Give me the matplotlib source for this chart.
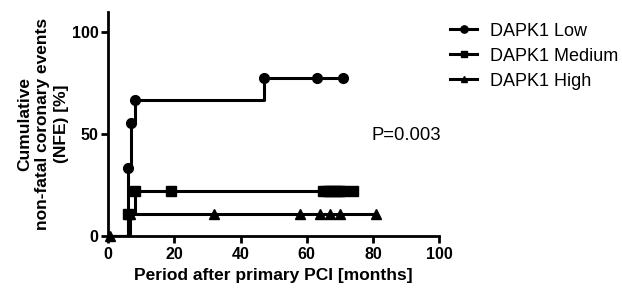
import matplotlib
matplotlib.use("Agg")
import matplotlib.pyplot as plt

plt.rcParams['font.family'] = ['Liberation Sans', 'DejaVu Sans']

# Kaplan-Meier style step data (time in months, cumulative %)
low_t = [0, 6, 7, 8, 47, 71]
low_y = [0, 33.3, 55.6, 66.7, 77.8, 77.8]
low_mark_t = [6, 7, 8, 47, 63, 71]
low_mark_y = [33.3, 55.6, 66.7, 77.8, 77.8, 77.8]

med_t = [0, 6, 8, 74]
med_y = [0, 11.1, 22.2, 22.2]
med_mark_t = [6, 8, 19, 65, 66, 67, 68, 69, 70, 71, 74]
med_mark_y = [11.1, 22.2, 22.2, 22.2, 22.2, 22.2, 22.2, 22.2, 22.2, 22.2, 22.2]

high_t = [0, 6.5, 81]
high_y = [0, 11.1, 11.1]
high_mark_t = [0.5, 6.5, 32, 58, 64, 67, 70, 81]
high_mark_y = [0, 11.1, 11.1, 11.1, 11.1, 11.1, 11.1, 11.1]

labels = ["DAPK1 Low", "DAPK1 Medium", "DAPK1 High"]
xticks = [0, 20, 40, 60, 80, 100]
yticks = [0, 50, 100]

fig = plt.figure(figsize=(6.22, 2.89), dpi=100)
ax = fig.add_axes([0.174, 0.183, 0.532, 0.775])

lw = 2.2
series = [
    (low_t, low_y, low_mark_t, low_mark_y, 'o', 7),
    (med_t, med_y, med_mark_t, med_mark_y, 's', 6.5),
    (high_t, high_y, high_mark_t, high_mark_y, '^', 6.5),
]
for (t, y, mt, my, m, ms), lab in zip(series, labels):
    ax.step(t, y, where='post', color='black', lw=lw, zorder=3)
    ax.plot(mt, my, linestyle='none', marker=m, ms=ms, color='black', zorder=4, clip_on=False)
    ax.plot([], [], color='black', lw=lw, marker=m, ms=ms * 0.75, label=lab)

ax.set_xlim(0, 100)
ax.set_ylim(0, 110)
ax.set_xticks(xticks)
ax.set_yticks(yticks)
for s in ['top', 'right']:
    ax.spines[s].set_visible(False)
for s in ['left', 'bottom']:
    ax.spines[s].set_linewidth(2)
ax.tick_params(width=2, length=5, labelsize=11.5)
ax.tick_params(axis='y', pad=2)
ax.tick_params(axis='x', pad=3)
for lbl in ax.get_xticklabels() + ax.get_yticklabels():
    lbl.set_fontweight('bold')

ax.set_xlabel("Period after primary PCI [months]", fontsize=12.5, fontweight='bold', labelpad=4)
ax.set_ylabel("Cumulative\nnon-fatal coronary events\n(NFE) [%]", fontsize=12.5,
              fontweight='bold', linespacing=1.3, labelpad=2)

ax.text(90, 49.5, "P=0.003", fontsize=13.3, ha='center', va='center')

leg = fig.legend(loc='upper left', bbox_to_anchor=(0.7235, 0.922), frameon=False,
                 fontsize=13, handlelength=1.5, handletextpad=0.7, labelspacing=0.45,
                 borderpad=0, borderaxespad=0)

fig.savefig("out.png", dpi=100)
